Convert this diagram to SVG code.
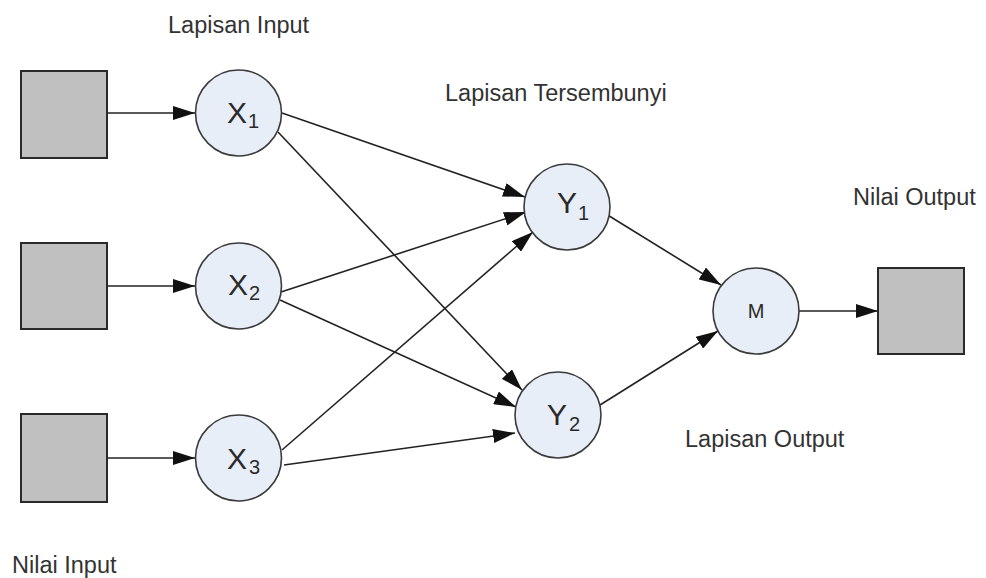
<svg xmlns="http://www.w3.org/2000/svg" width="986" height="578" viewBox="0 0 986 578">
<defs>
<style>
.box{fill:#c0c0c0;stroke:#2a2a2a;stroke-width:2}
.node{fill:#e8eef8;stroke:#3a3a3a;stroke-width:1.6}
.lbl{font-family:"Liberation Sans",Arial,sans-serif;font-size:23.5px;fill:#333}
.nl{font-family:"Liberation Sans",Arial,sans-serif;font-size:30px;fill:#2a2a2a}
.sub{font-size:20px}
.edge{stroke:#222;stroke-width:1.6;fill:none;marker-end:url(#ah)}
</style>
<marker id="ah" viewBox="0 0 22 14" refX="22" refY="7" markerWidth="22" markerHeight="14" markerUnits="userSpaceOnUse" orient="auto">
<path d="M0,0 L22,7 L0,14 Z" fill="#111"/>
</marker>
</defs>
<rect width="986" height="578" fill="#fff"/>

<g id="labels">
<text class="lbl" x="168" y="33">Lapisan Input</text>
<text class="lbl" x="445" y="101">Lapisan Tersembunyi</text>
<text class="lbl" x="853" y="205">Nilai Output</text>
<text class="lbl" x="685" y="447">Lapisan Output</text>
<text class="lbl" x="12" y="573">Nilai Input</text>
</g>

<g id="connectors">
<line class="edge" x1="107" y1="113" x2="195" y2="113"/>
<line class="edge" x1="107" y1="286" x2="195" y2="286"/>
<line class="edge" x1="107" y1="458" x2="195" y2="458"/>
<line class="edge" x1="282" y1="113" x2="525" y2="197"/>
<line class="edge" x1="278" y1="132" x2="522" y2="390"/>
<line class="edge" x1="281" y1="292" x2="526" y2="212"/>
<line class="edge" x1="280" y1="300" x2="516" y2="407"/>
<line class="edge" x1="282" y1="450" x2="533" y2="232"/>
<line class="edge" x1="284" y1="465" x2="515" y2="433"/>
<line class="edge" x1="606" y1="214" x2="721" y2="285"/>
<line class="edge" x1="600" y1="405" x2="718" y2="331"/>
<line class="edge" x1="799" y1="311" x2="878" y2="311"/>
</g>

<g id="in1"><rect class="box" x="21" y="71" width="86" height="87"/></g>
<g id="in2"><rect class="box" x="21" y="243" width="86" height="86"/></g>
<g id="in3"><rect class="box" x="21" y="414" width="86" height="88"/></g>
<g id="out"><rect class="box" x="878" y="268" width="86" height="86"/></g>

<g id="x1"><circle class="node" cx="238.5" cy="113" r="43"/>
<text class="nl" x="227" y="123">X<tspan class="sub" x="248" y="128">1</tspan></text></g>
<g id="x2"><circle class="node" cx="238.5" cy="286" r="43"/>
<text class="nl" x="228" y="295">X<tspan class="sub" x="249" y="300">2</tspan></text></g>
<g id="x3"><circle class="node" cx="238.5" cy="458" r="43"/>
<text class="nl" x="227" y="469">X<tspan class="sub" x="249" y="474">3</tspan></text></g>
<g id="y1"><circle class="node" cx="567" cy="207" r="43"/>
<text class="nl" x="557" y="213">Y<tspan class="sub" x="578" y="220">1</tspan></text></g>
<g id="y2"><circle class="node" cx="558" cy="415" r="43"/>
<text class="nl" x="547" y="425">Y<tspan class="sub" x="569" y="431">2</tspan></text></g>
<g id="m"><circle class="node" cx="756" cy="311" r="43"/>
<text class="nl" x="756" y="318" text-anchor="middle" style="font-size:20px">M</text></g>
</svg>
